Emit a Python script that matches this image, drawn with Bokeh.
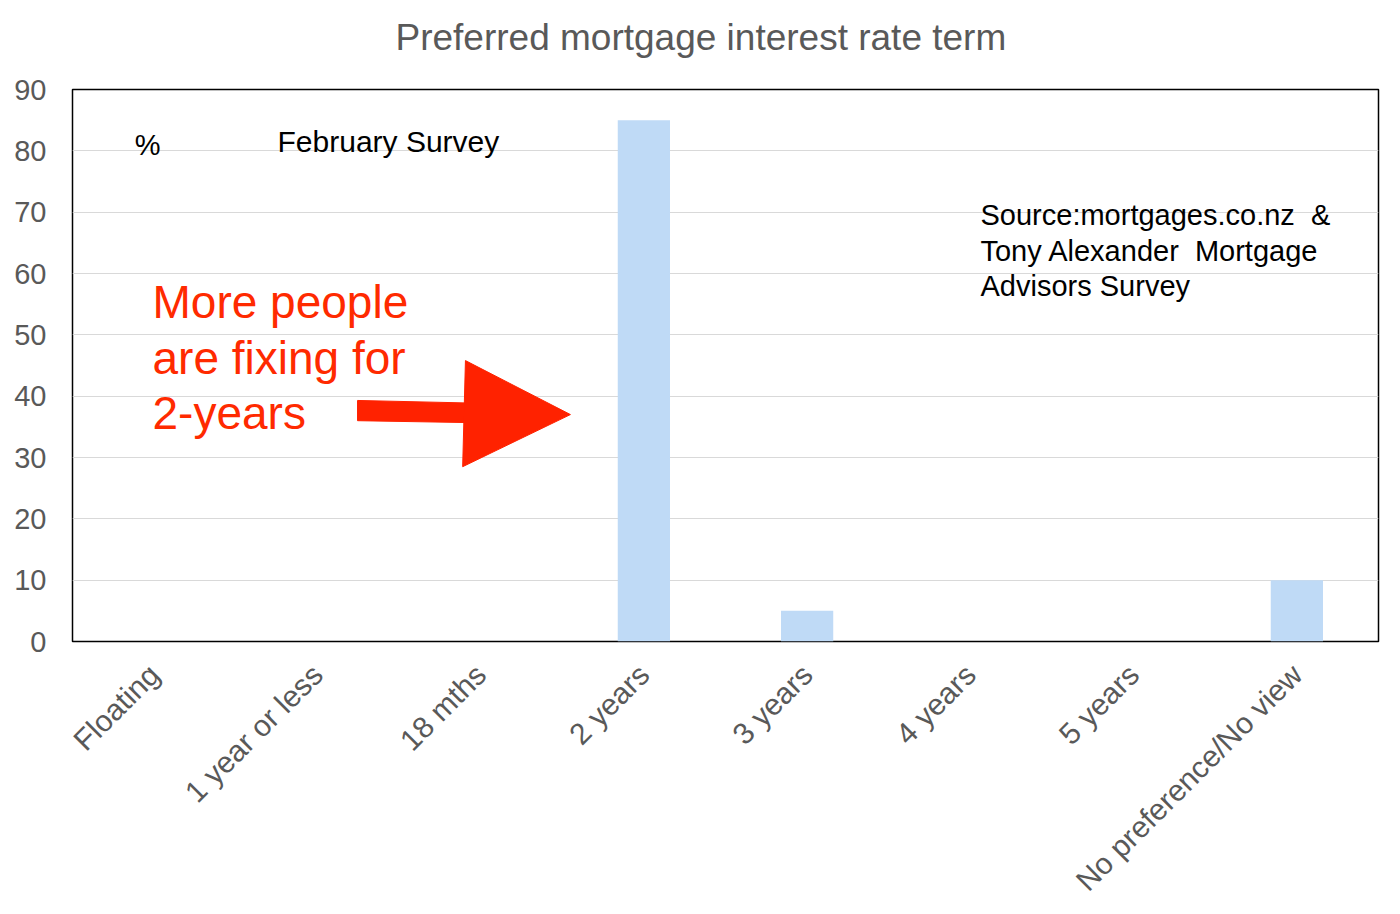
import math
from bokeh.plotting import figure
from bokeh.models import Range1d, FixedTicker, Label, Title
from bokeh.embed import file_html
from bokeh.resources import INLINE

title_text = "Preferred mortgage interest rate term"
categories = ["Floating", "1 year or less", "18 mths", "2 years", "3 years",
              "4 years", "5 years", "No preference/No view"]
values = [0, 0, 0, 85, 5, 0, 0, 10]
y_ticks = [0, 10, 20, 30, 40, 50, 60, 70, 80, 90]

xs = [i + 0.5 for i in range(len(categories))]

p = figure(frame_width=1306, frame_height=552, output_backend="svg", toolbar_location=None,
           x_range=Range1d(0, len(categories)), y_range=Range1d(0, 90),
           min_border_left=72, min_border_right=14, min_border_top=87,
           min_border_bottom=10)

# spacer between frame and title
p.add_layout(Title(text=" ", text_font_size="13px", standoff=0), "above")

p.title.text = title_text
p.title.align = "left"
p.title.vertical_align = "bottom"
p.title.text_font = "Liberation Sans"
p.title.text_font_size = "37px"
p.title.text_font_style = "normal"
p.title.text_color = "#595959"
p.title.offset = 323
p.title.standoff = 29

p.vbar(x=xs, top=values, width=0.32, color="#BFDAF6", line_color=None)

# Axes
p.yaxis.ticker = FixedTicker(ticks=y_ticks)
p.xaxis.ticker = FixedTicker(ticks=xs)
p.xaxis.major_label_overrides = {x: c for x, c in zip(xs, categories)}
p.xaxis.major_label_orientation = math.pi / 4
for ax in (p.xaxis, p.yaxis):
    ax.axis_line_color = None
    ax.major_tick_line_color = None
    ax.minor_tick_line_color = None
    ax.major_label_text_font = "Liberation Sans"
    ax.major_label_text_color = "#595959"
p.yaxis.major_label_text_font_size = "29px"
p.xaxis.major_label_text_font_size = "30px"
p.yaxis.major_label_standoff = 20
p.xaxis.major_label_standoff = 22

p.xgrid.grid_line_color = None
p.ygrid.grid_line_color = "#D9D9D9"
p.ygrid.grid_line_width = 1.2

p.outline_line_color = "#000000"
p.outline_line_width = 1.5
p.background_fill_color = "white"
p.border_fill_color = "white"

# Arrow annotation
shaft_x = [1.746, 2.407, 2.407, 1.746]
shaft_y = [39.3, 38.9, 35.7, 36.0]
p.patch(shaft_x, shaft_y, color="#FF2200", line_color="#FF2200")
p.patch([2.407, 3.05, 2.39], [45.8, 37.0, 28.5], color="#FF2200", line_color="#FF2200")

# Texts
def lab(x, y, t, size, color="black", align="left"):
    p.add_layout(Label(x=x, y=y, text=t, text_font="Liberation Sans",
                       text_font_size=size, text_color=color, text_align=align,
                       text_baseline="middle"))

NB = "\u00a0"
lab(0.46, 81.0, "%", "29px", align="center")
lab(1.256, 81.5, "February Survey", "30px")
lab(5.562, 69.5, "Source:mortgages.co.nz" + NB + NB + "&", "29px")
lab(5.562, 63.6, "Tony Alexander" + NB + NB + "Mortgage", "29px")
lab(5.562, 57.9, "Advisors Survey", "29px")
lab(0.49, 55.3, "More people", "46px", color="#FF2A00")
lab(0.49, 46.3, "are fixing for", "46px", color="#FF2A00")
lab(0.49, 37.3, "2-years", "46px", color="#FF2A00")

open("out.html", "w").write(file_html(p, INLINE))
